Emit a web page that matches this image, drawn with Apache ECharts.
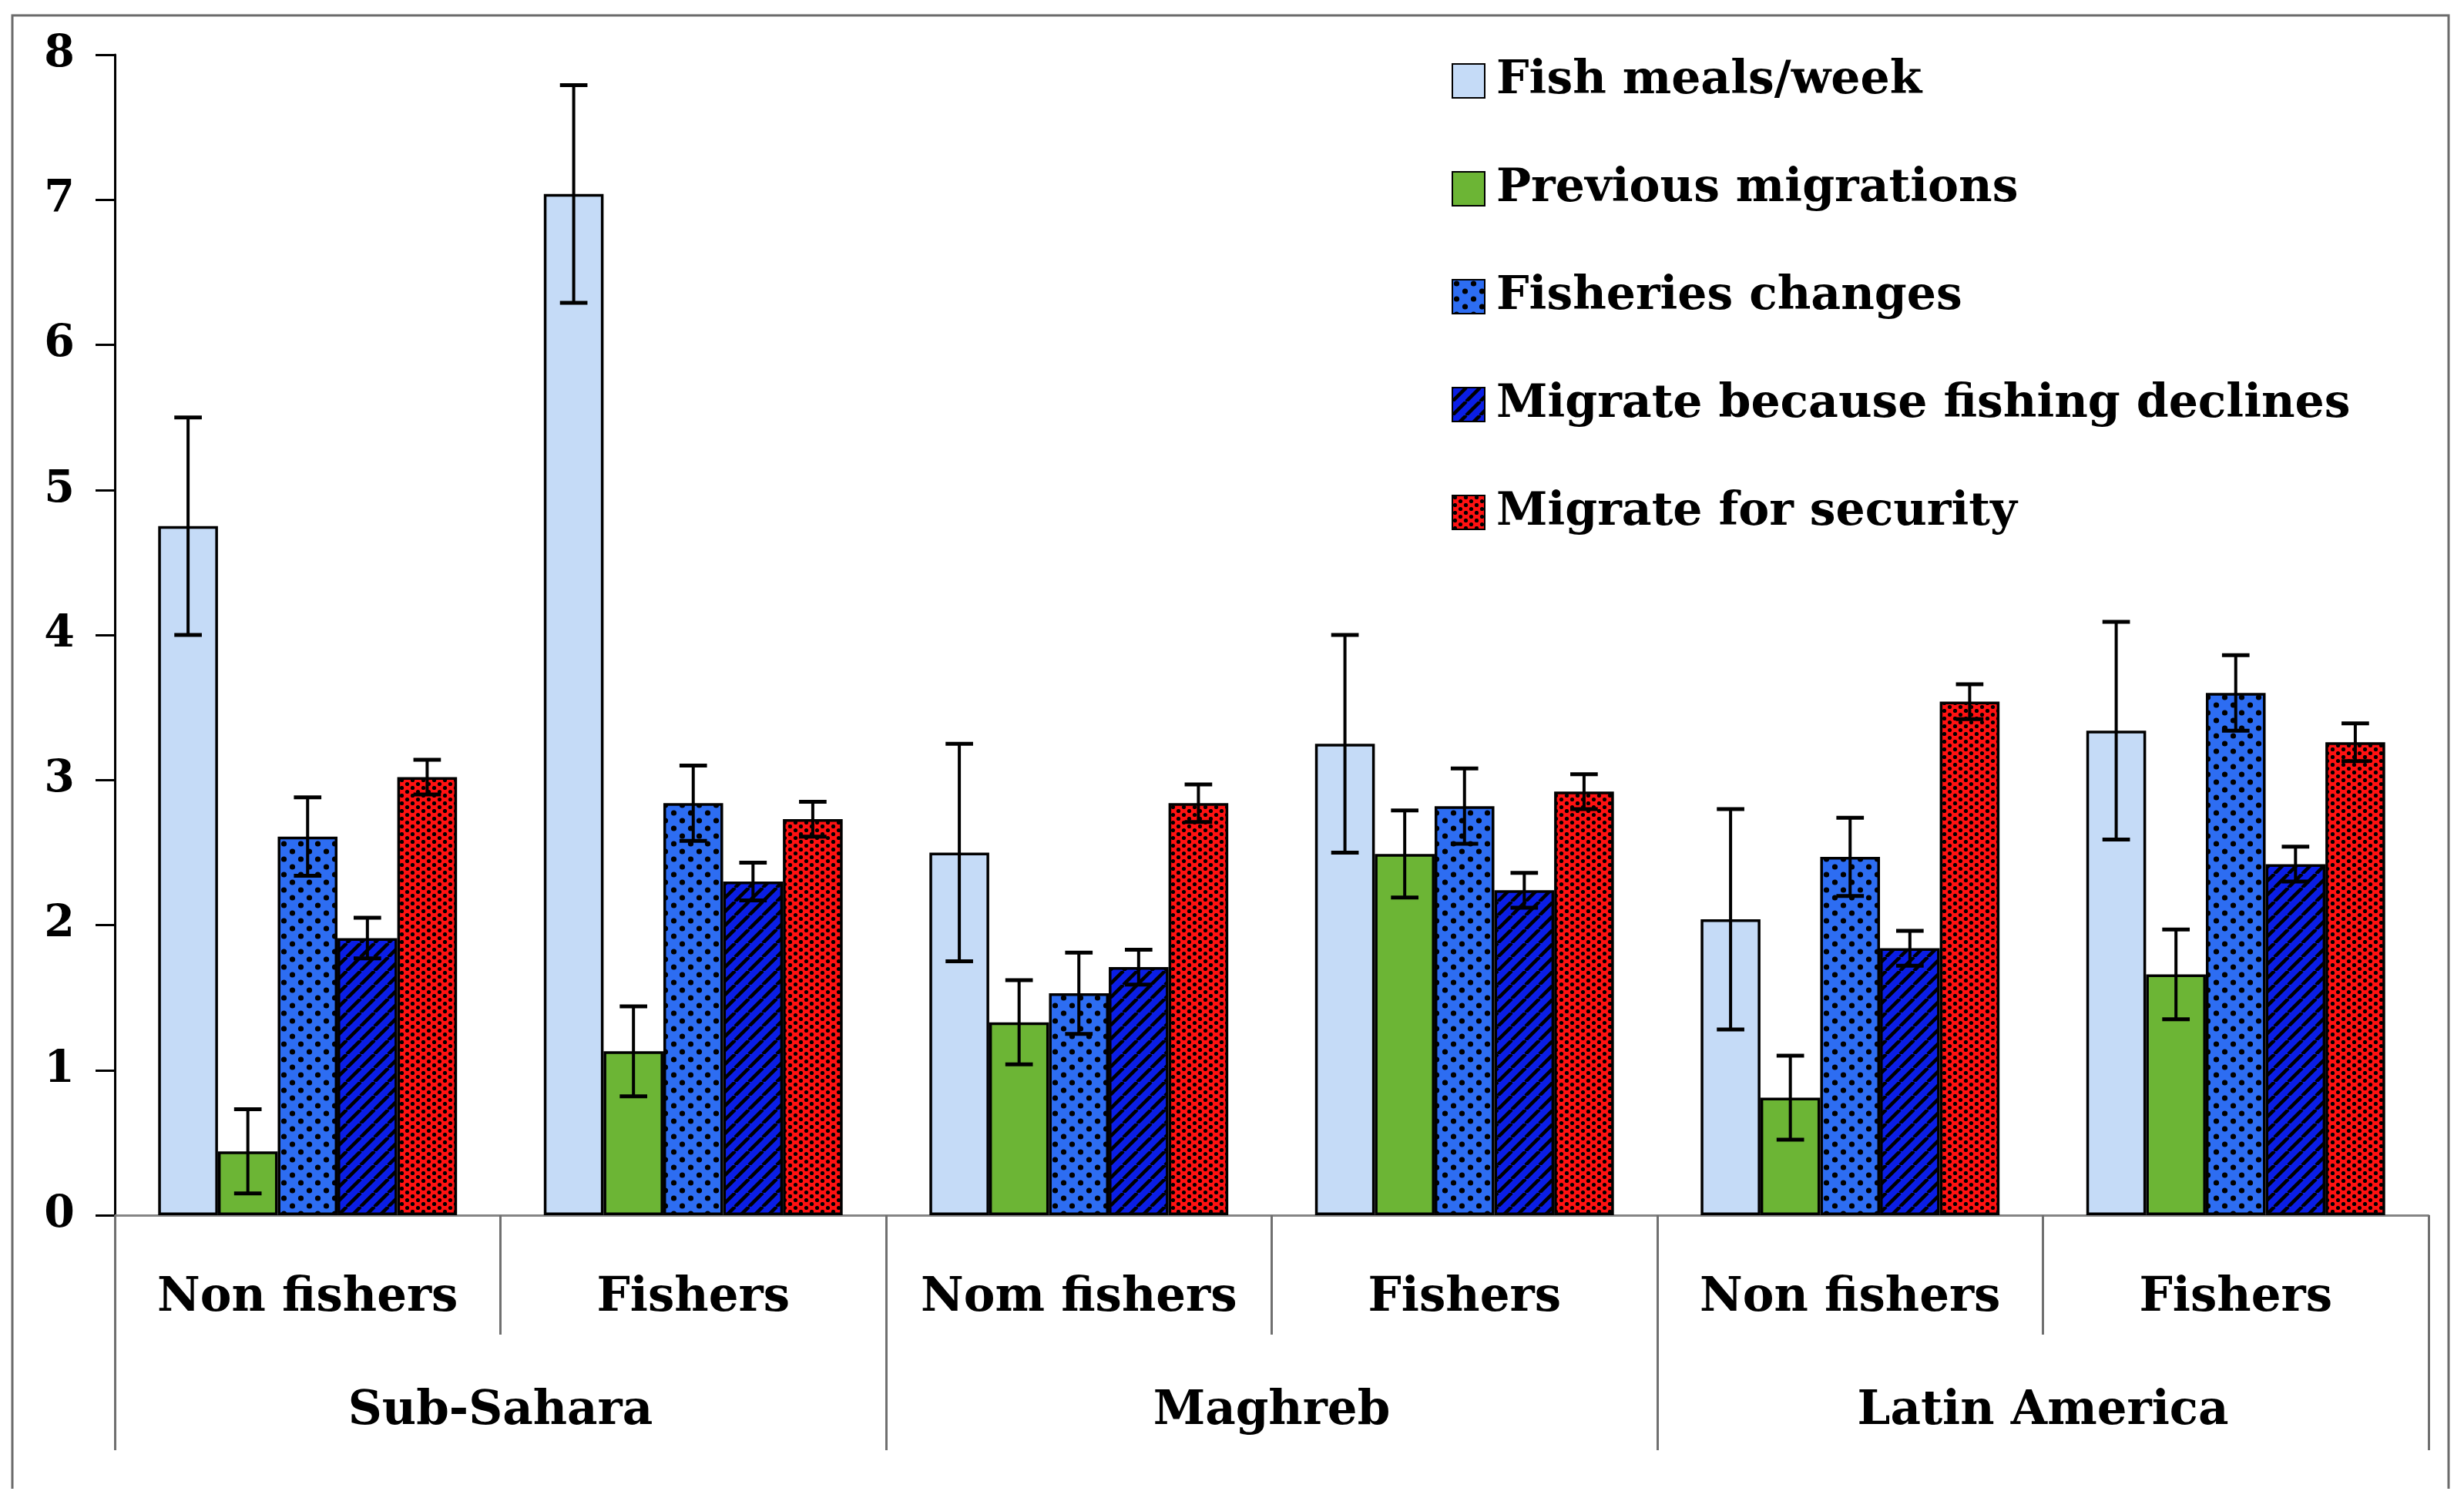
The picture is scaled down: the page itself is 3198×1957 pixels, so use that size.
<!DOCTYPE html>
<html>
<head>
<meta charset="utf-8">
<title>Fish meals and migration</title>
<script src="https://cdn.jsdelivr.net/npm/echarts@6/dist/echarts.min.js"></script>
<style>
	html, body { margin: 0; padding: 0; background: #fff; }
	#chart { width: 3198px; height: 1957px; }
</style>
</head>
<body>
<div id="chart"></div>
<script>
// categories (two levels)
var groups = ['Non fishers', 'Fishers', 'Nom fishers', 'Fishers', 'Non fishers', 'Fishers'];
var regions = ['Sub-Sahara', 'Maghreb', 'Latin America'];
var yTicks = [0, 1, 2, 3, 4, 5, 6, 7, 8];

// series means and error (+/-)
var fishMeals = [4.75, 7.04, 2.50, 3.25, 2.04, 3.34];
var fishMealsErr = [0.75, 0.75, 0.75, 0.75, 0.76, 0.75];
var prevMigrations = [0.44, 1.13, 1.33, 2.49, 0.81, 1.66];
var prevMigrationsErr = [0.29, 0.31, 0.29, 0.30, 0.29, 0.31];
var fisheriesChanges = [2.61, 2.84, 1.53, 2.82, 2.47, 3.60];
var fisheriesChangesErr = [0.27, 0.26, 0.28, 0.26, 0.27, 0.26];
var migrateDeclines = [1.91, 2.30, 1.71, 2.24, 1.84, 2.42];
var migrateDeclinesErr = [0.14, 0.13, 0.12, 0.12, 0.12, 0.12];
var migrateSecurity = [3.02, 2.73, 2.84, 2.92, 3.54, 3.26];
var migrateSecurityErr = [0.12, 0.12, 0.13, 0.12, 0.12, 0.13];

var seriesNames = ['Fish meals/week', 'Previous migrations', 'Fisheries changes',
	'Migrate because fishing declines', 'Migrate for security'];

var FONT = '"DejaVu Serif", "Liberation Serif", serif';
var GAP = 0.225;

// pattern tiles
function dotTile(bg, w, h, r) {
	var c = document.createElement('canvas');
	c.width = w; c.height = h;
	var g = c.getContext('2d');
	g.fillStyle = bg;
	g.fillRect(0, 0, w, h);
	g.fillStyle = '#000';
	var pts = [[w / 4, h / 4], [w * 3 / 4, h * 3 / 4]];
	for (var i = 0; i < pts.length; i++) {
		g.beginPath();
		g.arc(pts[i][0], pts[i][1], r, 0, Math.PI * 2);
		g.fill();
	}
	return c;
}
function stripeTile(bg, s, lw) {
	var c = document.createElement('canvas');
	c.width = s; c.height = s;
	var g = c.getContext('2d');
	g.fillStyle = bg;
	g.fillRect(0, 0, s, s);
	g.strokeStyle = '#000';
	g.lineWidth = lw;
	for (var k = -s; k <= s; k += s) {
		g.beginPath();
		g.moveTo(k, s);
		g.lineTo(k + s, 0);
		g.stroke();
	}
	return c;
}

var fills = [
	'#c5dbf7',
	'#6cb535',
	{ image: dotTile('#2d6df2', 22, 20, 3.6), repeat: 'repeat' },
	{ image: stripeTile('#0a1ee6', 18, 4.5), repeat: 'repeat' },
	{ image: dotTile('#ff1212', 14, 10, 2.6), repeat: 'repeat' }
];
var means = [fishMeals, prevMigrations, fisheriesChanges, migrateDeclines, migrateSecurity];
var errs = [fishMealsErr, prevMigrationsErr, fisheriesChangesErr, migrateDeclinesErr, migrateSecurityErr];

function errorBarSeries(idx) {
	var data = [];
	for (var i = 0; i < groups.length; i++) {
		data.push([i, means[idx][i] - errs[idx][i], means[idx][i] + errs[idx][i]]);
	}
	return {
		type: 'custom',
		name: 'err' + idx,
		z: 5,
		silent: true,
		encode: { x: 0, y: [1, 2] },
		data: data,
		renderItem: function (params, api) {
			var ci = api.value(0);
			var band = api.size([1, 0])[0];
			var bw = band * (1 - GAP) / 5;
			var pLo = api.coord([ci, api.value(1)]);
			var pHi = api.coord([ci, api.value(2)]);
			var x = pLo[0] + (idx - 2) * bw;
			var half = bw * 0.23;
			var cap = { stroke: '#000', lineWidth: 5 };
			return {
				type: 'group',
				children: [
					{ type: 'line', shape: { x1: x, y1: pLo[1], x2: x, y2: pHi[1] }, style: { stroke: '#000', lineWidth: 4 } },
					{ type: 'line', shape: { x1: x - half, y1: pHi[1], x2: x + half, y2: pHi[1] }, style: cap },
					{ type: 'line', shape: { x1: x - half, y1: pLo[1], x2: x + half, y2: pLo[1] }, style: cap }
				]
			};
		}
	};
}

var series = [];
for (var s = 0; s < seriesNames.length; s++) {
	series.push({
		name: seriesNames[s],
		type: 'bar',
		xAxisIndex: 0,
		barGap: 0,
		barCategoryGap: (GAP * 100) + '%',
		itemStyle: { color: fills[s], borderColor: '#000', borderWidth: 3.5 },
		data: means[s]
	});
}
for (var e = 0; e < seriesNames.length; e++) {
	series.push(errorBarSeries(e));
}

var myChart = echarts.init(document.getElementById('chart'));
var option = {
	backgroundColor: '#fff',
	animation: false,
	graphic: [{
		type: 'polyline',
		shape: { points: [[16, 1932], [16, 20], [3178, 20], [3178, 1932]] },
		style: { stroke: '#6b6b6b', lineWidth: 3, fill: null }
	}],
	grid: { left: 149, right: 46, top: 71, bottom: 380 },
	legend: {
		orient: 'vertical',
		left: 1879,
		top: 70,
		icon: 'rect',
		itemWidth: 42,
		itemHeight: 44,
		itemGap: 80,
		data: seriesNames,
		textStyle: { fontFamily: FONT, fontWeight: 'bold', fontSize: 60, color: '#000', lineHeight: 60, padding: [0, 0, 0, 10] }
	},
	xAxis: [{
		type: 'category',
		data: groups,
		position: 'bottom',
		axisLine: { lineStyle: { color: '#858585', width: 3 } },
		axisTick: { show: true, interval: 0, length: 155, lineStyle: { color: '#707070', width: 3 } },
		axisLabel: { interval: 0, margin: 78, fontFamily: FONT, fontWeight: 'bold', fontSize: 61, color: '#000' }
	}, {
		type: 'category',
		data: regions,
		position: 'bottom',
		axisLine: { show: false },
		axisTick: { show: true, interval: 0, length: 305, lineStyle: { color: '#707070', width: 3 } },
		axisLabel: { interval: 0, margin: 225, fontFamily: FONT, fontWeight: 'bold', fontSize: 61, color: '#000' }
	}],
	yAxis: {
		type: 'value',
		min: yTicks[0],
		max: yTicks[yTicks.length - 1],
		interval: 1,
		splitLine: { show: false },
		axisLine: { show: true, lineStyle: { color: '#000', width: 3 } },
		axisTick: { show: true, length: 25, lineStyle: { color: '#000', width: 3 } },
		axisLabel: { margin: 52, fontFamily: FONT, fontWeight: 'bold', fontSize: 57, color: '#000' }
	},
	series: series
};
myChart.setOption(option);
</script>
</body>
</html>
